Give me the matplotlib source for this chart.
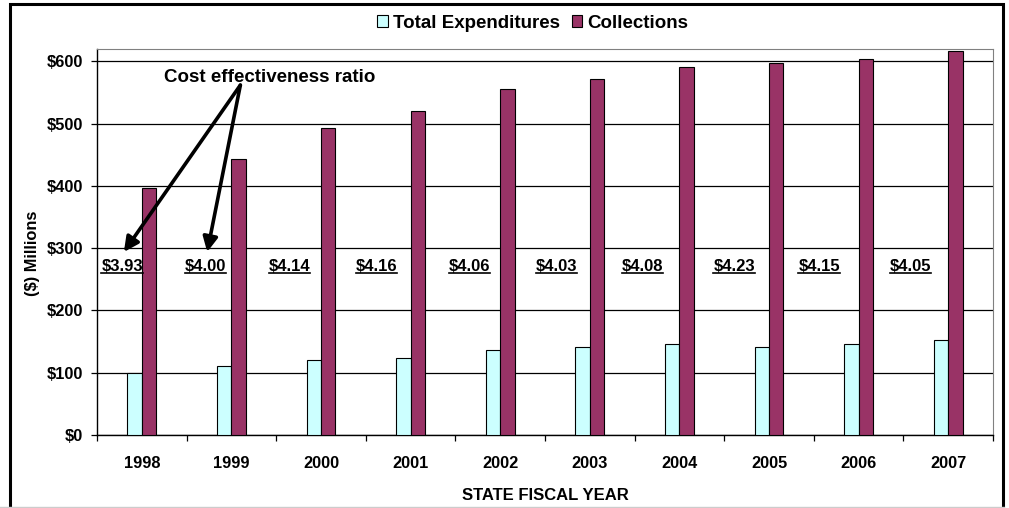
import numpy as np
import matplotlib
matplotlib.use("Agg")
import matplotlib.pyplot as plt
from matplotlib.patches import Rectangle
from matplotlib.lines import Line2D

plt.rcParams['font.family'] = ['Liberation Sans', 'DejaVu Sans']
plt.rcParams['font.weight'] = 'bold'

years = ['1998', '1999', '2000', '2001', '2002', '2003', '2004', '2005', '2006', '2007']
expenditures = [100, 111, 120, 124, 137, 141, 146, 141, 146, 152]
collections = [396, 443, 493, 521, 555, 572, 591, 597, 604, 616]
ratios = ['$3.93', '$4.00', '$4.14', '$4.16', '$4.06', '$4.03', '$4.08', '$4.23', '$4.15', '$4.05']
yticks = [0, 100, 200, 300, 400, 500, 600]

# label placement (layout only)
lbl_dx = [-0.22, -0.29, -0.35, -0.38, -0.34, -0.37, -0.41, -0.39, -0.44, -0.42]
lbl_y = 270

W, H = 1009, 508
fig = plt.figure(figsize=(W / 100, H / 100), dpi=100)
ax = fig.add_axes([97 / W, 1 - 435 / H, (993 - 97) / W, (435 - 49) / H])

x = np.arange(len(years))
bw = 0.16
ax.bar(x - bw, expenditures, width=bw, align='edge', color='#CCFFFF',
       edgecolor='black', linewidth=0.8, label='Total Expenditures', zorder=3)
ax.bar(x, collections, width=bw, align='edge', color='#993366',
       edgecolor='black', linewidth=0.8, label='Collections', zorder=3)

ax.set_xlim(-0.5, len(years) - 0.5)
ax.set_ylim(0, 620)
ax.set_yticks(yticks)
ax.set_yticklabels(['$%d' % v for v in yticks])
ax.yaxis.grid(True, color='black', linewidth=0.9, zorder=0)
ax.set_axisbelow(True)

ax.set_xticks(np.arange(-0.5, len(years), 1.0))
ax.set_xticklabels([])
ax.set_xticks(x, minor=True)
ax.set_xticklabels(years, minor=True)
ax.tick_params(axis='x', which='major', length=4, width=0.9, direction='out')
ax.tick_params(axis='x', which='minor', length=0, pad=15, labelsize=11.8)
ax.tick_params(axis='y', length=4, width=0.9, pad=6, labelsize=11.8)

for s in ['top', 'right']:
    ax.spines[s].set_color('#808080')
for s in ['left', 'bottom']:
    ax.spines[s].set_color('black')
    ax.spines[s].set_linewidth(1.0)

labels = []
for i, r in enumerate(ratios):
    t = ax.text(i + lbl_dx[i], lbl_y, r, ha='center', va='center',
                fontsize=12, fontweight='bold', zorder=4)
    labels.append(t)

ax.text(1.43, 574, 'Cost effectiveness ratio', ha='center', va='center',
        fontsize=13.5, fontweight='bold', zorder=5)
for i in [0, 1]:
    ax.annotate('', xy=(i + lbl_dx[i] + 0.02, lbl_y + 24), xytext=(1.10, 562),
                arrowprops=dict(arrowstyle='-|>', lw=2.6, color='black',
                                mutation_scale=22, shrinkA=0, shrinkB=0),
                zorder=5)

fig.text(32 / W, 1 - 253 / H, '($) Millions', rotation=90, ha='center',
         va='center', fontsize=11.8, fontweight='bold')
fig.text(545 / W, 1 - 495 / H, 'STATE FISCAL YEAR', ha='center',
         va='center', fontsize=12, fontweight='bold')

fig.legend(loc='center', bbox_to_anchor=(533 / W, 1 - 23 / H), ncol=2,
           frameon=False, fontsize=13.5, handlelength=0.55, handleheight=0.55,
           handletextpad=0.3, columnspacing=0.6, borderaxespad=0)

# underline the ratio labels
fig.canvas.draw()
r = fig.canvas.get_renderer()
for t in labels:
    bb = t.get_window_extent(renderer=r)
    yy = bb.y0 + 1
    fig.add_artist(Line2D([bb.x0 / W, bb.x1 / W], [yy / H, yy / H],
                          color='black', linewidth=1.2))

fig.add_artist(Rectangle((10 / W, -0.05), (1003 - 10) / W, 1.05 - 4 / H,
                         fill=False, edgecolor='black', linewidth=2.2))
fig.add_artist(Line2D([0, 1004 / W], [1 - 507 / H, 1 - 507 / H],
                      color='#cccccc', linewidth=1.0))

fig.savefig('out.png', dpi=100)
